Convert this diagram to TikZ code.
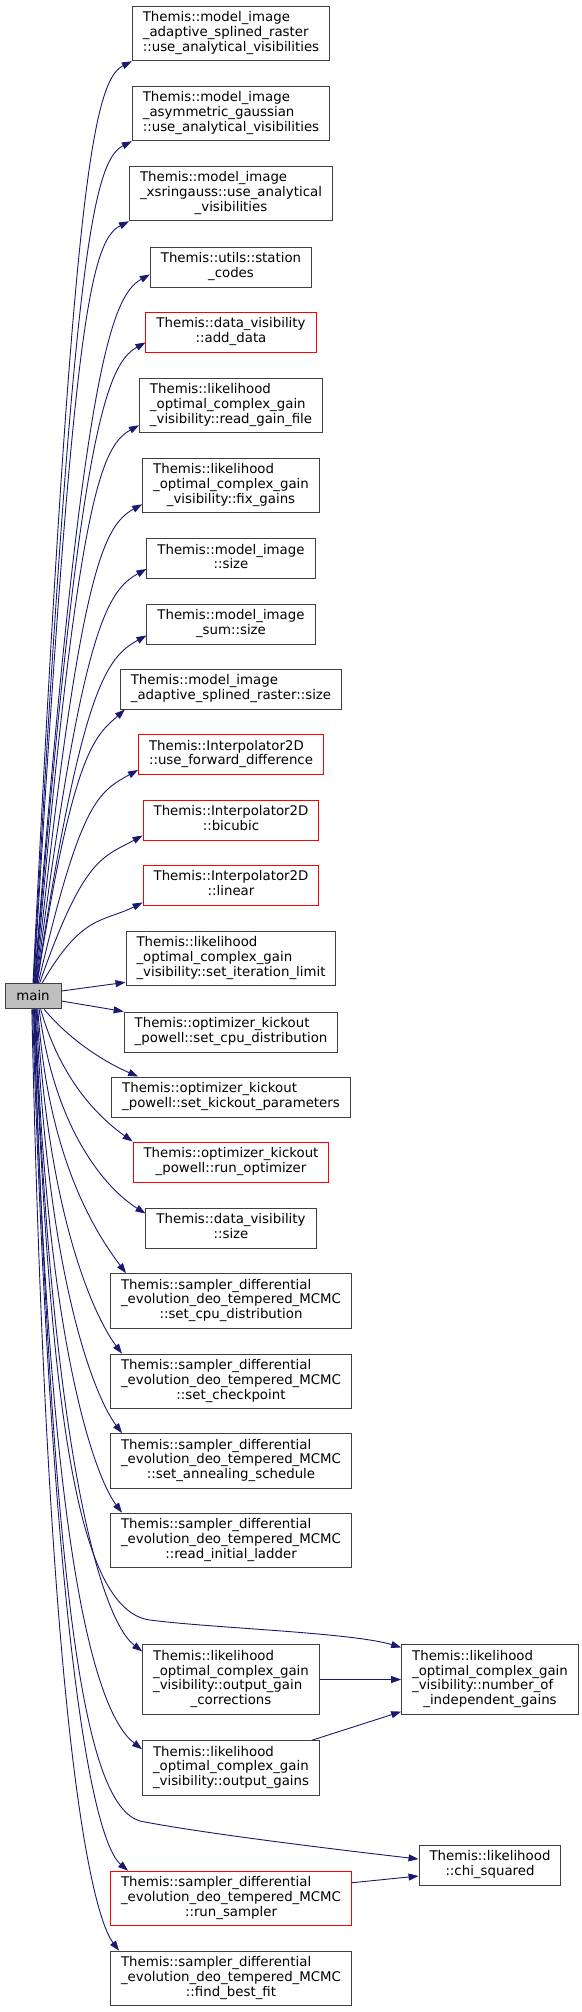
\documentclass[tikz,border=0pt]{standalone}
\usepackage{fontspec}
\setmainfont{DejaVu Sans}
\usepackage{xcolor}
\usepackage{tikz}
\usetikzlibrary{arrows.meta,positioning}

\definecolor{edgeblue}{RGB}{25,25,112}
\definecolor{mainfill}{RGB}{191,191,191}
\definecolor{boxline}{RGB}{64,64,64}

% all lines flush left, the last one centred
\newcommand{\fnlines}[2]{\begin{tabular}{@{}l@{}}#1\\\multicolumn{1}{@{}c@{}}{#2}\end{tabular}}

\begin{document}
\begin{tikzpicture}[
  x=1pt, y=-1pt,
  fn/.style={draw=boxline, line width=1pt, fill=white, inner xsep=10.5pt, inner ysep=5.4pt, font=\fontsize{13.33}{14.6}\selectfont},
  fntrunc/.style={fn, draw=red},
  mainfn/.style={fn, fill=mainfill, minimum width=56pt, minimum height=25.5pt},
  call/.style={-{Triangle[length=10pt,width=7pt]}, draw=edgeblue, line width=0.9pt}
]
\useasboundingbox (0,0) rectangle (581,2012);

\node[mainfn] (main) at (33,996) {main};

\node[fn] (splvis) at (231,33.5) {\fnlines{Themis::model\_image\\\_adaptive\_splined\_raster}{::use\_analytical\_visibilities}};
\node[fn] (agvis) at (231,113.5) {\fnlines{Themis::model\_image\\\_asymmetric\_gaussian}{::use\_analytical\_visibilities}};
\node[fn] (xsvis) at (231,193.5) {\fnlines{Themis::model\_image\\\_xsringauss::use\_analytical}{\_visibilities}};
\node[fn] (stcodes) at (231,267) {\fnlines{Themis::utils::station}{\_codes}};
\node[fntrunc] (adddata) at (231,332) {\fnlines{Themis::data\_visibility}{::add\_data}};
\node[fn] (readgain) at (231,405.5) {\fnlines{Themis::likelihood\\\_optimal\_complex\_gain}{\_visibility::read\_gain\_file}};
\node[fn] (fixgains) at (231,485.5) {\fnlines{Themis::likelihood\\\_optimal\_complex\_gain}{\_visibility::fix\_gains}};
\node[fn] (imgsize) at (231,558.5) {\fnlines{Themis::model\_image}{::size}};
\node[fn] (sumsize) at (231,624) {\fnlines{Themis::model\_image}{\_sum::size}};
\node[fn] (splsize) at (231,689) {\fnlines{Themis::model\_image}{\_adaptive\_splined\_raster::size}};
\node[fntrunc] (fwddiff) at (231,754.5) {\fnlines{Themis::Interpolator2D}{::use\_forward\_difference}};
\node[fntrunc] (bicubic) at (231,820) {\fnlines{Themis::Interpolator2D}{::bicubic}};
\node[fntrunc] (linear) at (231,885) {\fnlines{Themis::Interpolator2D}{::linear}};
\node[fn] (iterlim) at (231,958.5) {\fnlines{Themis::likelihood\\\_optimal\_complex\_gain}{\_visibility::set\_iteration\_limit}};
\node[fn] (okcpu) at (231,1032) {\fnlines{Themis::optimizer\_kickout}{\_powell::set\_cpu\_distribution}};
\node[fn] (okkick) at (231,1097) {\fnlines{Themis::optimizer\_kickout}{\_powell::set\_kickout\_parameters}};
\node[fntrunc] (runopt) at (231,1162) {\fnlines{Themis::optimizer\_kickout}{\_powell::run\_optimizer}};
\node[fn] (dvsize) at (231,1228) {\fnlines{Themis::data\_visibility}{::size}};
\node[fn] (decpu) at (231,1301) {\fnlines{Themis::sampler\_differential\\\_evolution\_deo\_tempered\_MCMC}{::set\_cpu\_distribution}};
\node[fn] (dechk) at (231,1381.5) {\fnlines{Themis::sampler\_differential\\\_evolution\_deo\_tempered\_MCMC}{::set\_checkpoint}};
\node[fn] (deanneal) at (231,1461) {\fnlines{Themis::sampler\_differential\\\_evolution\_deo\_tempered\_MCMC}{::set\_annealing\_schedule}};
\node[fn] (deladder) at (231,1540.5) {\fnlines{Themis::sampler\_differential\\\_evolution\_deo\_tempered\_MCMC}{::read\_initial\_ladder}};
\node[fn] (outcorr) at (231,1679.5) {\fnlines{Themis::likelihood\\\_optimal\_complex\_gain\\\_visibility::output\_gain}{\_corrections}};
\node[fn] (nindep) at (490,1679.5) {\fnlines{Themis::likelihood\\\_optimal\_complex\_gain\\\_visibility::number\_of}{\_independent\_gains}};
\node[fn] (outgains) at (231,1768) {\fnlines{Themis::likelihood\\\_optimal\_complex\_gain}{\_visibility::output\_gains}};
\node[fn] (chisq) at (490,1865) {\fnlines{Themis::likelihood}{::chi\_squared}};
\node[fntrunc] (runsamp) at (231,1898.5) {\fnlines{Themis::sampler\_differential\\\_evolution\_deo\_tempered\_MCMC}{::run\_sampler}};
\node[fn] (bestfit) at (231,1978.5) {\fnlines{Themis::sampler\_differential\\\_evolution\_deo\_tempered\_MCMC}{::find\_best\_fit}};

% calls going up
\draw[call] (main.90) .. controls +(39,-784) and +(-40,20) .. (splvis.south west);
\draw[call] (main.88) .. controls +(39,-716) and +(-40,20) .. (agvis.south west);
\draw[call] (main.86) .. controls +(38,-648) and +(-40,20) .. (xsvis.south west);
\draw[call] (main.84) .. controls +(47,-603) and +(-40,22) .. ([yshift=13pt]stcodes.south west);
\draw[call] (main.82) .. controls +(44,-545) and +(-40,22) .. ([yshift=10pt]adddata.south west);
\draw[call] (main.80) .. controls +(42,-474) and +(-40,22) .. ([yshift=8pt]readgain.south west);
\draw[call] (main.78) .. controls +(43,-407) and +(-40,22) .. ([yshift=9pt]fixgains.south west);
\draw[call] (main.76) .. controls +(45,-352) and +(-40,22) .. ([yshift=10pt]imgsize.south west);
\draw[call] (main.74) .. controls +(45,-296) and +(-40,22) .. ([yshift=9pt]sumsize.south west);
\draw[call] (main.72) .. controls +(36,-233) and +(-30,27) .. ([xshift=5pt]splsize.south west);
\draw[call] (main.68) .. controls +(42,-181) and +(-40,22) .. ([yshift=5pt]fwddiff.south west);
\draw[call] (main.63) .. controls +(44,-126) and +(-40,22) .. ([yshift=5pt]bicubic.south west);
\draw[call] (main.55) .. controls +(40,-69) and +(-40,20) .. ([yshift=3pt]linear.south west);
\draw[call] ([yshift=5pt]main.east) -- ([yshift=4pt]iterlim.south west);
\draw[call] ([yshift=-5pt]main.east) -- (okcpu.north west);

% calls going down
\draw[call] (main.-50) .. controls +(25,30) and +(-35,-15) .. ([xshift=27pt]okkick.north west);
\draw[call] (main.-60) .. controls +(20,70) and +(-35,-25) .. (runopt.north west);
\draw[call] (main.-65) .. controls +(15,120) and +(-40,-25) .. ([yshift=-6pt]dvsize.north west);
\draw[call] (main.-70) .. controls +(10,150) and +(-30,-40) .. ([xshift=16pt]decpu.north west);
\draw[call] (main.-73) .. controls +(10,200) and +(-30,-40) .. ([xshift=12pt]dechk.north west);
\draw[call] (main.-76) .. controls +(10,260) and +(-30,-40) .. ([xshift=12pt]deanneal.north west);
\draw[call] (main.-79) .. controls +(10,320) and +(-30,-40) .. ([xshift=12pt]deladder.north west);
\draw[call] (main.-82) .. controls +(15,420) and +(-45,-35) .. ([yshift=-7pt]outcorr.north west);
\draw[call] (main.-84) .. controls +(15,391) and (75,1610) .. (150,1620)
  .. controls (210,1628) and +(-50,-15) .. ([yshift=-3pt]nindep.north west);
\draw[call] (main.-86) .. controls +(15,560) and +(-45,-35) .. ([yshift=-9pt]outgains.north west);
\draw[call] (main.-88) .. controls +(20,600) and (85,1805) .. (140,1821)
  .. controls (200,1833) and (340,1850) .. ([yshift=6pt]chisq.west);
\draw[call] (main.-92) .. controls +(20,640) and +(-35,-30) .. ([xshift=18pt]runsamp.north west);
\draw[call] (main.-95) .. controls +(15,700) and +(-30,-40) .. ([xshift=9pt]bestfit.north west);

% calls between callees
\draw[call] (outcorr) -- (nindep);
\draw[call] ([xshift=-8pt]outgains.north east) -- ([yshift=3pt]nindep.south west);
\draw[call] ([yshift=-12pt]runsamp.north east) -- ([yshift=-11pt]chisq.west);
\end{tikzpicture}
\end{document}
